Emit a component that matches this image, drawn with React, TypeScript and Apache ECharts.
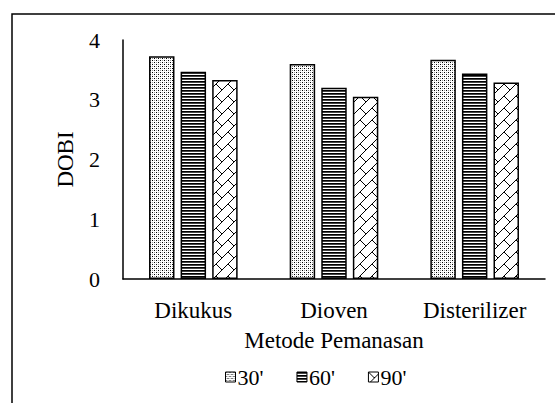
import React, { useEffect, useRef } from "react";
import * as echarts from "echarts";

const categories = ["Dikukus", "Dioven", "Disterilizer"];
const seriesNames = ["30'", "60'", "90'"];
const values30 = [3.73, 3.6, 3.67];
const values60 = [3.47, 3.2, 3.44];
const values90 = [3.33, 3.05, 3.29];
const yTicks = [0, 1, 2, 3, 4];

const FONT = "Liberation Serif, serif";

function makeDots(): HTMLCanvasElement {
  const c = document.createElement("canvas");
  c.width = 4;
  c.height = 4;
  const g = c.getContext("2d")!;
  g.fillStyle = "#fff";
  g.fillRect(0, 0, 4, 4);
  g.fillStyle = "#000";
  g.fillRect(0, 0, 1, 1);
  g.fillRect(2, 2, 1, 1);
  g.fillStyle = "#999";
  g.fillRect(2, 0, 1, 1);
  g.fillRect(0, 2, 1, 1);
  return c;
}

function makeHLines(): HTMLCanvasElement {
  const c = document.createElement("canvas");
  c.width = 4;
  c.height = 3;
  const g = c.getContext("2d")!;
  g.fillStyle = "#fff";
  g.fillRect(0, 0, 4, 3);
  g.fillStyle = "#000";
  g.fillRect(0, 0, 4, 1);
  g.fillStyle = "#444";
  g.fillRect(0, 1, 4, 1);
  return c;
}

function makeZigzag(): HTMLCanvasElement {
  const s = 12;
  const c = document.createElement("canvas");
  c.width = s;
  c.height = s;
  const g = c.getContext("2d")!;
  g.fillStyle = "#fff";
  g.fillRect(0, 0, s, s);
  g.strokeStyle = "#000";
  g.lineWidth = 1;
  g.beginPath();
  g.moveTo(0, s);
  g.lineTo(s, 0);
  g.moveTo(0, 0);
  g.lineTo(s / 2, s / 2);
  g.stroke();
  return c;
}

export default function App() {
  const ref = useRef<HTMLDivElement>(null);
  useEffect(() => {
    document.body.style.margin = "0";
    const chart = echarts.init(ref.current!, null, { renderer: "svg" });
    const patterns = [makeDots(), makeHLines(), makeZigzag()];
    const data = [values30, values60, values90];
    chart.setOption({
      animation: false,
      backgroundColor: "#fff",
      textStyle: { fontFamily: FONT, color: "#000" },
      grid: { left: 123, right: 10, top: 40, bottom: 124, containLabel: false },
      graphic: [
        {
          type: "rect",
          shape: { x: 12, y: 14, width: 700, height: 600 },
          style: { fill: "none", stroke: "#000", lineWidth: 1.5 },
          silent: true,
        },
      ],
      legend: {
        data: seriesNames,
        bottom: 10,
        left: 220,
        itemWidth: 10,
        itemHeight: 10,
        itemGap: 33,
        icon: "rect",
        itemStyle: { borderColor: "#000", borderWidth: 1 },
        textStyle: { fontFamily: FONT, fontSize: 22, color: "#000", padding: [0, 0, 0, -3] },
      },
      xAxis: {
        type: "category",
        data: categories,
        name: "Metode Pemanasan",
        nameLocation: "middle",
        nameGap: 50,
        nameTextStyle: { fontFamily: FONT, fontSize: 23, color: "#000" },
        axisLine: { lineStyle: { color: "#000", width: 1.5 } },
        axisTick: { show: false },
        axisLabel: { fontFamily: FONT, fontSize: 23, color: "#000", margin: 20 },
      },
      yAxis: {
        type: "value",
        min: yTicks[0],
        max: yTicks[yTicks.length - 1],
        interval: 1,
        name: "DOBI",
        nameLocation: "middle",
        nameGap: 46,
        nameTextStyle: { fontFamily: FONT, fontSize: 23, color: "#000" },
        axisLine: { show: true, lineStyle: { color: "#000", width: 1.5 } },
        axisTick: { show: false },
        splitLine: { show: false },
        axisLabel: { fontFamily: FONT, fontSize: 22, color: "#000", margin: 23 },
      },
      series: seriesNames.map((name, i) => ({
        name,
        type: "bar",
        data: data[i],
        barGap: "24%",
        barCategoryGap: "37%",
        itemStyle: {
          color: { image: patterns[i], repeat: "repeat" },
          borderColor: "#000",
          borderWidth: 1.5,
        },
      })),
    });
    return () => chart.dispose();
  }, []);
  return <div ref={ref} style={{ width: 555, height: 403 }} />;
}
